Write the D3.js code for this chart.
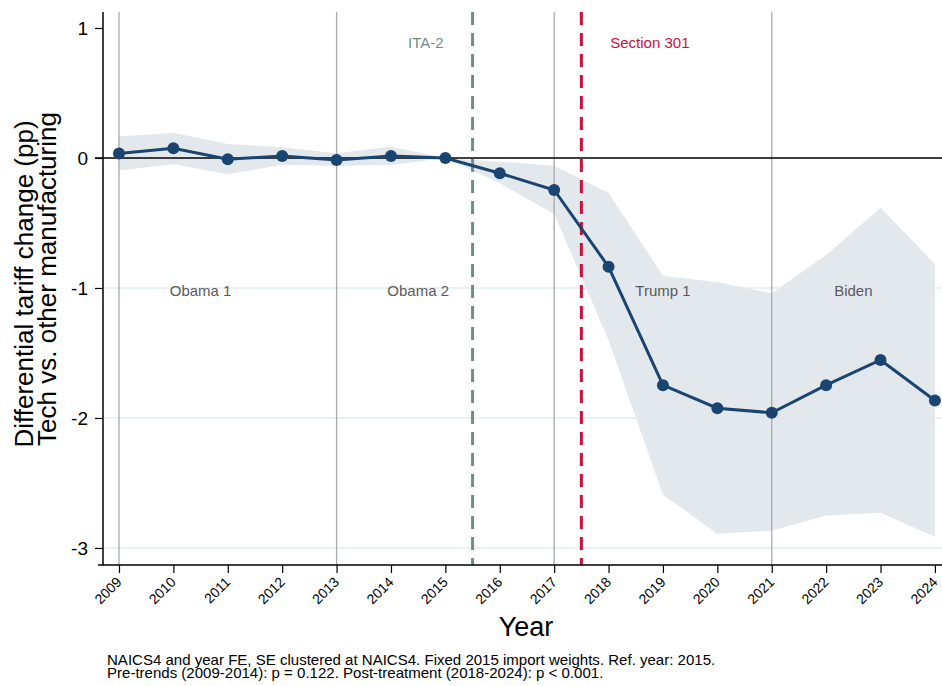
<!DOCTYPE html>
<html>
<head>
<meta charset="utf-8">
<script src="https://cdn.jsdelivr.net/npm/d3@7"></script>
<style>
  html, body { margin: 0; padding: 0; background: #fff; }
  svg { display: block; font-family: "Liberation Sans", Arial, sans-serif; }
</style>
</head>
<body>
<svg id="chart" width="942" height="686"></svg>
<script>
// Event-study estimates: differential tariff change, tech vs. other manufacturing
const years = [2009, 2010, 2011, 2012, 2013, 2014, 2015, 2016, 2017, 2018, 2019, 2020, 2021, 2022, 2023, 2024];
const estimate = [0.035, 0.075, -0.01, 0.015, -0.015, 0.015, 0, -0.117, -0.246, -0.837, -1.748, -1.925, -1.96, -1.748, -1.554, -1.865];
const ciUpper = [0.165, 0.195, 0.108, 0.082, 0.036, 0.087, 0, -0.028, -0.06, -0.27, -0.905, -0.956, -1.04, -0.746, -0.382, -0.815];
const ciLower = [-0.097, -0.049, -0.125, -0.054, -0.059, -0.054, 0, -0.195, -0.43, -1.40, -2.59, -2.89, -2.867, -2.75, -2.73, -2.913];

const yTicks = [1, 0, -1, -2, -3];
const gridValues = [-1, -2, -3];
const termStarts = [2009, 2013, 2017, 2021];
const termLabels = ["Obama 1", "Obama 2", "Trump 1", "Biden"];
const termLabelYears = [2010.5, 2014.5, 2019, 2022.5];
const events = [
  { year: 2015.5, label: "ITA-2", labelYear: 2014.64, color: "#6f8f84" },
  { year: 2017.5, label: "Section 301", labelYear: 2018.76, color: "#cc0f3d" }
];
const yTitleLines = ["Differential tariff change (pp)", "Tech vs. other manufacturing"];
const footnotes = [
  "NAICS4 and year FE, SE clustered at NAICS4. Fixed 2015 import weights. Ref. year: 2015.",
  "Pre-trends (2009-2014): p = 0.122. Post-treatment (2018-2024): p < 0.001."
];

const svg = d3.select("#chart");
const plot = { left: 103, right: 942, top: 12, bottom: 565 };

const x = d3.scaleLinear()
  .domain([2008.706, 2024.13])
  .range([plot.left, plot.right]);
const y = d3.scaleLinear()
  .domain([-3.131, 1.123])
  .range([plot.bottom, plot.top]);

// light horizontal gridlines
svg.append("g").selectAll("line").data(gridValues).join("line")
  .attr("x1", plot.left).attr("x2", plot.right)
  .attr("y1", d => y(d)).attr("y2", d => y(d))
  .attr("stroke", "#e2edf0").attr("stroke-width", 1.5);

// confidence band
const band = d3.area()
  .x((d, i) => x(years[i]))
  .y0((d, i) => y(ciLower[i]))
  .y1((d, i) => y(ciUpper[i]));
svg.append("path").datum(years)
  .attr("d", band)
  .attr("fill", "#e3e8ed");

// presidential term boundaries
svg.append("g").selectAll("line").data(termStarts).join("line")
  .attr("x1", d => x(d)).attr("x2", d => x(d))
  .attr("y1", plot.top).attr("y2", plot.bottom)
  .attr("stroke", "#a9a9a9").attr("stroke-width", 1.3);

// term labels
svg.append("g").selectAll("text").data(termLabels).join("text")
  .attr("x", (d, i) => x(termLabelYears[i]))
  .attr("y", y(-1) + 8)
  .attr("text-anchor", "middle")
  .attr("font-size", 15)
  .attr("fill", "#5a5a5a")
  .text(d => d);

// zero reference line
svg.append("line")
  .attr("x1", plot.left - 8).attr("x2", plot.right)
  .attr("y1", y(0)).attr("y2", y(0))
  .attr("stroke", "#000").attr("stroke-width", 1.4);

// policy event markers
events.forEach(e => {
  svg.append("line")
    .attr("x1", x(e.year)).attr("x2", x(e.year))
    .attr("y1", plot.top).attr("y2", plot.bottom)
    .attr("stroke", e.color).attr("stroke-width", 3)
    .attr("stroke-dasharray", "13,8");
  svg.append("text")
    .attr("x", x(e.labelYear)).attr("y", 48)
    .attr("text-anchor", "middle")
    .attr("font-size", 15)
    .attr("fill", e.color)
    .text(e.label);
});

// estimate line and markers
const line = d3.line()
  .x((d, i) => x(years[i]))
  .y((d, i) => y(estimate[i]));
svg.append("path").datum(years)
  .attr("d", line)
  .attr("fill", "none")
  .attr("stroke", "#1a4570")
  .attr("stroke-width", 3);
svg.append("g").selectAll("circle").data(years).join("circle")
  .attr("cx", d => x(d))
  .attr("cy", (d, i) => y(estimate[i]))
  .attr("r", 6)
  .attr("fill", "#1a4570");

// y axis
const yAxis = svg.append("g")
  .attr("transform", `translate(${plot.left},0)`)
  .call(d3.axisLeft(y).tickValues(yTicks).tickSize(8).tickPadding(7).tickFormat(d3.format("d")));
yAxis.select(".domain").remove();
yAxis.selectAll(".tick line").attr("stroke", "#000").attr("stroke-width", 1.2);
yAxis.selectAll("text").attr("font-size", 19).attr("fill", "#000")
  .attr("font-family", "Liberation Sans, Arial, sans-serif")
  .text(d => d < 0 ? "-" + Math.abs(d) : d);
svg.append("line")
  .attr("x1", plot.left).attr("x2", plot.left)
  .attr("y1", plot.top).attr("y2", plot.bottom)
  .attr("stroke", "#000").attr("stroke-width", 1.5);

// x axis
const xAxis = svg.append("g")
  .attr("transform", `translate(0,${plot.bottom})`)
  .call(d3.axisBottom(x).tickValues(years).tickSize(8).tickFormat(d3.format("d")));
xAxis.select(".domain").remove();
xAxis.selectAll(".tick line").attr("stroke", "#000").attr("stroke-width", 1.2);
xAxis.selectAll("text")
  .attr("font-size", 14).attr("fill", "#000")
  .attr("font-family", "Liberation Sans, Arial, sans-serif")
  .attr("text-anchor", "end")
  .attr("x", 0).attr("y", 0).attr("dy", 0)
  .attr("transform", "translate(3,18) rotate(-45)");
svg.append("line")
  .attr("x1", plot.left - 5).attr("x2", plot.right)
  .attr("y1", plot.bottom).attr("y2", plot.bottom)
  .attr("stroke", "#000").attr("stroke-width", 1.5);

// axis titles
svg.append("text")
  .attr("x", 526).attr("y", 636)
  .attr("text-anchor", "middle")
  .attr("font-size", 27)
  .text("Year");
svg.append("g").selectAll("text").data(yTitleLines).join("text")
  .attr("transform", (d, i) => `translate(${i === 0 ? 33 : 56},${i === 0 ? 284 : 279}) rotate(-90)`)
  .attr("text-anchor", "middle")
  .attr("font-size", 26)
  .text(d => d);

// footnote (slightly wide face, tight leading)
svg.append("g").selectAll("text").data(footnotes).join("text")
  .attr("transform", (d, i) => `translate(107,${665 + i * 12.5}) scale(1.075,1)`)
  .attr("font-size", 14)
  .text(d => d);
</script>
</body>
</html>
